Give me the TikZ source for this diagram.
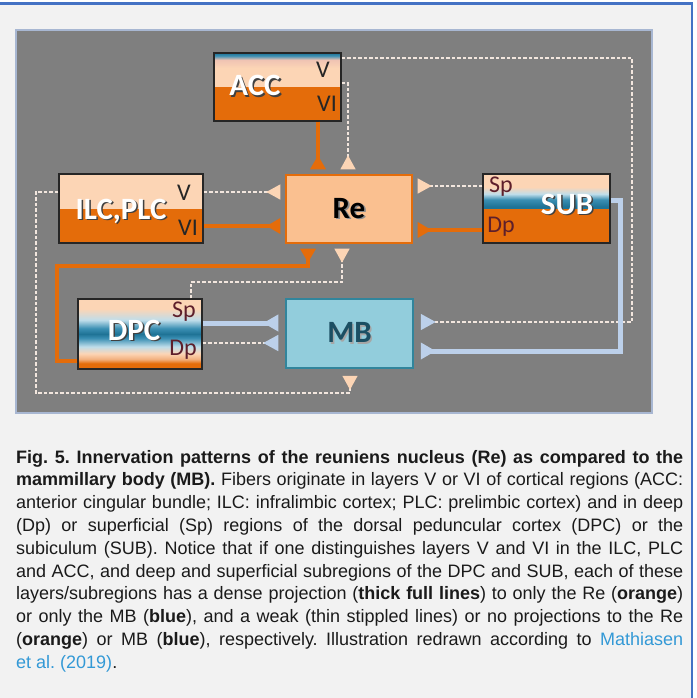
\documentclass[tikz,border=0pt]{standalone}
\usepackage{fontspec}
\setmainfont{Liberation Sans}
\newfontfamily\carl{Carlito}
\usetikzlibrary{arrows.meta,calc}

\definecolor{frameblue}{HTML}{4472C4}
\definecolor{pagebg}{HTML}{F2F2F2}
\definecolor{panelgray}{HTML}{7F7F7F}
\definecolor{paneledge}{HTML}{A8B7D2}
\definecolor{orng}{HTML}{E46C0A}
\definecolor{peachlt}{HTML}{FCD5B5}
\definecolor{peachdk}{HTML}{F2B07E}
\definecolor{peachre}{HTML}{FAC090}
\definecolor{mbfill}{HTML}{92CDDC}
\definecolor{mbedge}{HTML}{31859C}
\definecolor{mbtext}{HTML}{1B4F63}
\definecolor{blueline}{HTML}{BCD0EA}
\definecolor{dashcol}{HTML}{F2E6DE}
\definecolor{tealdk}{HTML}{1F7396}
\definecolor{tealmd}{HTML}{3B8FB3}
\definecolor{bluelt}{HTML}{BFDDEA}
\definecolor{pinkpeach}{HTML}{EFC3B3}
\definecolor{maroon}{HTML}{5E1F2B}
\definecolor{linkblue}{HTML}{3399D6}
\definecolor{boxedge}{HTML}{262626}
\definecolor{captext}{HTML}{1A1A1A}

\pgfdeclareverticalshading{accsh}{100bp}{color(0bp)=(peachlt); color(25bp)=(peachlt); color(53bp)=(peachlt); color(65bp)=(pinkpeach); color(71bp)=(tealmd); color(75bp)=(tealdk); color(100bp)=(tealdk)}
\pgfdeclareverticalshading{subsh}{100bp}{color(0bp)=(tealdk); color(28bp)=(tealdk); color(38bp)=(tealmd); color(46bp)=(bluelt); color(56bp)=(peachlt); color(100bp)=(peachlt)}
\pgfdeclareverticalshading{dpcsh}{100bp}{color(0bp)=(orng); color(25bp)=(orng); color(29bp)=(orng); color(32bp)=(peachdk); color(36bp)=(peachlt); color(41bp)=(bluelt); color(47bp)=(tealmd); color(50bp)=(tealdk); color(54bp)=(tealmd); color(60bp)=(bluelt); color(68bp)=(peachlt); color(100bp)=(peachlt)}

\newcommand\shadowtxt[2]{\rlap{\kern1.6pt\raisebox{-1.6pt}{\textcolor{#1}{#2}}}#2}

\tikzset{
  cortbox/.style={rectangle, inner sep=0pt, draw=boxedge, line width=1.5pt},
  bigtitle/.style={anchor=base, inner sep=0pt, text=white, font=\carl\bfseries\fontsize{31pt}{31pt}\selectfont},
  layerlab/.style={anchor=base, inner sep=0pt, text=boxedge, font=\carl\fontsize{24pt}{24pt}\selectfont},
  sublab/.style={layerlab, text=maroon},
  thickor/.style={draw=orng, line width=4.5pt, shorten >=5pt, -{Triangle[reversed, width=15pt, length=14pt]}},
  thickbl/.style={draw=blueline, line width=5pt, shorten >=7pt, -{Triangle[reversed, width=16pt, length=15pt]}},
  dashre/.style={draw=dashcol, line width=1.5pt, dash pattern=on 3.5pt off 2pt, shorten >=5pt, -{Triangle[reversed, width=15pt, length=14pt, color=peachlt]}},
  dashmb/.style={draw=dashcol, line width=1.5pt, dash pattern=on 3.5pt off 2pt, shorten >=7pt, -{Triangle[reversed, width=16pt, length=15pt, color=blueline]}}
}

\begin{document}
\begin{tikzpicture}[x=1pt, y=-1pt]
\useasboundingbox (0,0) rectangle (696,698);
\fill[white] (0,0) rectangle (696,698);
\fill[pagebg] (0,4) rectangle (691,698);
\draw[frameblue, line width=2.5pt] (0,3.5) -- (692,3.5) -- (692,698);

% panel
\draw[fill=panelgray, draw=paneledge, line width=1.2pt] (16,30) rectangle (652,413);

% boxes
\node[cortbox, minimum width=127pt, minimum height=68pt,
  path picture={\fill[orng] (path picture bounding box.south west) rectangle (path picture bounding box.north east);
                \shade[shading=accsh] (path picture bounding box.north west) rectangle (path picture bounding box.east);}]
  (acc) at (277.5,87) {};
\node[cortbox, minimum width=144pt, minimum height=69pt,
  path picture={\fill[orng] (path picture bounding box.south west) rectangle (path picture bounding box.north east);
                \fill[peachlt] (path picture bounding box.north west) rectangle (path picture bounding box.east);}]
  (ilc) at (131,208.5) {};
\node[cortbox, minimum width=127pt, minimum height=69pt,
  path picture={\fill[orng] (path picture bounding box.south west) rectangle (path picture bounding box.north east);
                \shade[shading=subsh] (path picture bounding box.north west) rectangle (path picture bounding box.east);}]
  (sub) at (546.5,208.5) {};
\node[cortbox, minimum width=124pt, minimum height=70pt,
  path picture={\shade[shading=dpcsh] (path picture bounding box.south west) rectangle (path picture bounding box.north east);}]
  (dpc) at (140,334) {};
\node[rectangle, inner sep=0pt, minimum width=126pt, minimum height=68pt, fill=peachre, draw=orng, line width=1.3pt,
  font=\carl\bfseries\fontsize{31pt}{31pt}\selectfont, text=black]
  (re) at (349,209) {\shadowtxt{black!45}{Re}};
\node[rectangle, inner sep=0pt, minimum width=127pt, minimum height=69pt, fill=mbfill, draw=mbedge, line width=1.5pt,
  font=\carl\bfseries\fontsize{31pt}{31pt}\selectfont, text=mbtext]
  (mb) at (349.5,333.5) {\shadowtxt{black!35}{MB}};

% box labels
\node[bigtitle] (acclab) at (255,96) {\shadowtxt{black!75}{ACC}};
\node[layerlab] (accv) at (323,78) {V};
\node[layerlab] (accvi) at (327,112) {VI};
\node[bigtitle] (ilclab) at (121,219) {\shadowtxt{black!75}{ILC,PLC}};
\node[layerlab] (ilcv) at (184,200) {V};
\node[layerlab] (ilcvi) at (188,235) {VI};
\node[bigtitle] (sublab) at (567,214) {\shadowtxt{black!75}{SUB}};
\node[sublab] (subsp) at (501,192) {Sp};
\node[sublab] (subdp) at (501,232) {Dp};
\node[bigtitle] (dpclab) at (134,340) {\shadowtxt{black!75}{DPC}};
\node[sublab] (dpcsp) at (184,317) {Sp};
\node[sublab] (dpcdp) at (183,355) {Dp};

% helper coordinates
\coordinate (xA) at (318,0);
\coordinate (xB) at (348,0);
\coordinate (xC) at (632,0);
\coordinate (xD) at (620,0);
\coordinate (xE) at (36,0);
\coordinate (xF) at (57,0);
\coordinate (xG) at (191,0);
\coordinate (xH) at (342,0);
\coordinate (xI) at (308,0);
\coordinate (xJ) at (350,0);
\coordinate (yA) at (0,58);
\coordinate (yB) at (0,83);
\coordinate (yC) at (0,192);
\coordinate (yD) at (0,226);
\coordinate (yE) at (0,186);
\coordinate (yF) at (0,230);
\coordinate (yG) at (0,200);
\coordinate (yH) at (0,322);
\coordinate (yI) at (0,351);
\coordinate (yJ) at (0,323);
\coordinate (yK) at (0,343);
\coordinate (yL) at (0,282);
\coordinate (yM) at (0,266);
\coordinate (yN) at (0,361);
\coordinate (yO) at (0,393);

% connectors
\draw[thickor] (acc.south -| xA) -- (re.north -| xA);
\draw[dashre] (acc.east |- yB) -| (re.north -| xB);
\draw[dashmb] (acc.east |- yA) -| (xC |- yH) -- (mb.east |- yH);
\draw[dashre] (ilc.east |- yC) -- (re.west |- yC);
\draw[thickor] (ilc.east |- yD) -- (re.west |- yD);
\draw[dashre, shorten >=7pt] (ilc.west |- yC) -| (xE |- yO) -| (mb.south -| xJ);
\draw[dashre] (sub.west |- yE) -- (re.east |- yE);
\draw[thickor] (sub.west |- yF) -- (re.east |- yF);
\draw[thickbl] (sub.east |- yG) -| (xD |- yI) -- (mb.east |- yI);
\draw[thickbl] (dpc.east |- yJ) -- (mb.west |- yJ);
\draw[dashmb] (dpc.east |- yK) -- (mb.west |- yK);
\draw[dashre] (dpc.north -| xG) |- (xH |- yL) -- (re.south -| xH);
\draw[thickor] (dpc.west |- yN) -| (xF |- yM) -| (re.south -| xI);

% caption
\node[anchor=base west, inner sep=0pt, text width=667pt, align=justify, text=captext,
  font=\fontsize{18pt}{22.8pt}\selectfont\frenchspacing] (cap) at (16,463)
{\textbf{Fig. 5. Innervation patterns of the reuniens nucleus (Re) as compared to the}\linebreak
\textbf{mammillary body (MB).} Fibers originate in layers V or VI of cortical regions (ACC:\linebreak
anterior cingular bundle; ILC: infralimbic cortex; PLC: prelimbic cortex) and in deep\linebreak
(Dp) or superficial (Sp) regions of the dorsal peduncular cortex (DPC) or the\linebreak
subiculum (SUB). Notice that if one distinguishes layers V and VI in the ILC, PLC\linebreak
and ACC, and deep and superficial subregions of the DPC and SUB, each of these\linebreak
layers/subregions has a dense projection (\textbf{thick full lines}) to only the Re (\textbf{orange})\linebreak
or only the MB (\textbf{blue}), and a weak (thin stippled lines) or no projections to the Re\linebreak
(\textbf{orange}) or MB (\textbf{blue}), respectively. Illustration redrawn according to \textcolor{linkblue}{Mathiasen}\linebreak
\textcolor{linkblue}{et al. (2019)}.};
\end{tikzpicture}
\end{document}
